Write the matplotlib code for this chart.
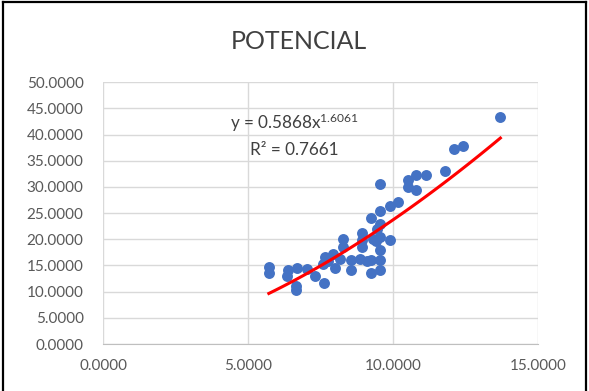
import numpy as np
import matplotlib
matplotlib.use('Agg')
import matplotlib.pyplot as plt
from matplotlib.lines import Line2D
from matplotlib.ticker import FormatStrFormatter

# data
x = [5.72, 5.72, 6.37, 6.34, 6.69, 6.67, 6.67, 7.03, 7.33, 7.64,
     7.66, 7.94, 8.00, 7.77, 7.60, 8.28, 8.28, 8.17, 8.57, 8.57,
     8.92, 8.92, 8.92, 8.86, 9.26, 9.26, 9.26, 9.10, 9.55, 9.55,
     9.55, 9.55, 9.55, 9.55, 9.55, 9.43, 9.30, 9.45, 9.90, 10.17,
     9.90, 10.53, 10.53, 10.81, 11.16, 10.81, 11.79, 12.10, 12.43, 13.71]
y = [14.8, 13.6, 14.2, 13.0, 14.6, 11.0, 10.3, 14.3, 13.0, 11.6,
     16.7, 17.2, 14.5, 15.9, 15.2, 20.0, 18.6, 16.3, 16.0, 14.1,
     21.2, 19.8, 18.6, 16.3, 24.0, 16.0, 13.5, 15.8, 30.5, 25.4,
     23.0, 20.5, 17.9, 16.0, 14.1, 19.7, 20.0, 22.0, 26.3, 27.2,
     19.8, 31.3, 30.0, 32.3, 32.2, 29.4, 33.0, 37.2, 37.8, 43.3]
coef_a = 0.5868
coef_b = 1.6061
r2 = 0.7661

plt.rcParams['font.family'] = ['Lato', 'DejaVu Sans']
plt.rcParams['mathtext.fontset'] = 'custom'
plt.rcParams['mathtext.rm'] = 'Lato'
plt.rcParams['mathtext.it'] = 'Lato'
fig = plt.figure(figsize=(5.89, 3.91), dpi=100)
ax = fig.add_axes([0.175, 0.12, 0.738, 0.67])

grey = '#595959'
ax.grid(True, color='#d9d9d9', linewidth=1.0)
ax.set_axisbelow(True)
for s in ['top', 'right', 'left']:
    ax.spines[s].set_visible(False)
ax.spines['bottom'].set_color('#bfbfbf')

ax.scatter(x, y, s=62, color='#4472c4', zorder=3, linewidths=0)

xf = np.linspace(min(x), max(x), 100)
ax.plot(xf, coef_a * xf ** coef_b, color='#ff0000', linewidth=2.2, zorder=4)

ax.set_xlim(0, 15)
ax.set_ylim(0, 50)
ax.set_xticks([0, 5, 10, 15])
ax.set_yticks(np.arange(0, 51, 5))
ax.xaxis.set_major_formatter(FormatStrFormatter('%.4f'))
ax.yaxis.set_major_formatter(FormatStrFormatter('%.4f'))
ax.tick_params(length=0, labelsize=11, colors=grey)
ax.tick_params(axis='x', pad=11)
ax.tick_params(axis='y', pad=14)

ax.text(6.6, 42.3, 'y = %.4fx$^{\\mathregular{%.4f}}$' % (coef_a, coef_b), ha='center', va='center',
        fontsize=12.3, color='#404040')
ax.text(6.6, 37.0, 'R² = %.4f' % r2, ha='center', va='center',
        fontsize=12.3, color='#404040')

fig.text(0.508, 0.895, 'POTENCIAL', ha='center', va='center', fontsize=18, color='#404040')

# chart frame
fig.add_artist(Line2D([0.005, 0.005], [0, 0.995], color='black', linewidth=1.6))
fig.add_artist(Line2D([0.005, 0.995], [0.995, 0.995], color='black', linewidth=1.6))
fig.add_artist(Line2D([0.995, 0.995], [0, 0.995], color='black', linewidth=1.6))

fig.savefig('out.png', dpi=100)
